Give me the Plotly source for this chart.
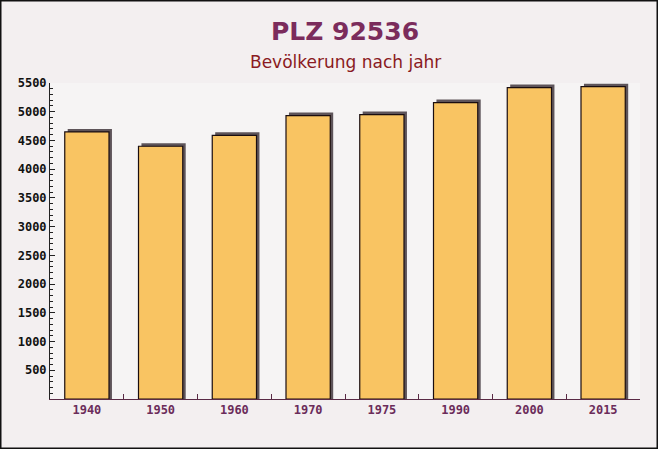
import plotly.graph_objects as go

years = ["1940", "1950", "1960", "1970", "1975", "1990", "2000", "2015"]
population = [4648, 4399, 4590, 4933, 4950, 5159, 5420, 5437]
y_ticks = [500, 1000, 1500, 2000, 2500, 3000, 3500, 4000, 4500, 5000, 5500]

W, H = 658, 449
ML, MR, MT, MB = 50, 18, 83, 50
shadow_units = 52  # ~3px vertical shadow offset in data units

fig = go.Figure()
fig.add_trace(go.Bar(
    x=years, y=[v + shadow_units for v in population],
    width=0.6, offset=-0.26,
    marker=dict(color="#5e5459", line=dict(width=0)),
    hoverinfo="skip", showlegend=False,
))
fig.add_trace(go.Bar(
    x=years, y=population,
    width=0.6, offset=-0.3,
    marker=dict(color="#f9c462", line=dict(color="#1a0d10", width=1.2)),
    showlegend=False,
))

ph = H - MT - MB
pw = W - ML - MR

fig.update_layout(
    width=W, height=H,
    margin=dict(l=ML, r=MR, t=MT, b=MB),
    barmode="overlay",
    paper_bgcolor="#f3eff0",
    plot_bgcolor="rgba(248,246,246,0.6)",
    font=dict(family="DejaVu Sans Mono"),
    annotations=[
        dict(text="<b>PLZ 92536</b>", x=0.5, xref="paper", y=(H - MB - 31) / ph, yref="paper",
             showarrow=False, yanchor="middle",
             font=dict(family="DejaVu Sans", size=25, color="#7b2c5c")),
        dict(text="Bevölkerung nach jahr", x=0.5, xref="paper", y=(H - MB - 62) / ph, yref="paper",
             showarrow=False, yanchor="middle",
             font=dict(family="DejaVu Sans", size=17, color="#8a1a22")),
    ],
)

fig.update_xaxes(
    type="category",
    showgrid=False, zeroline=False,
    showline=True, linecolor="#5a2a45", linewidth=1,
    ticks="inside", tickson="boundaries", ticklen=5, tickcolor="#5a2a45",
    tickfont=dict(family="DejaVu Sans Mono", size=12, color="#6b2c5a", weight="bold"),
    range=[-0.5, len(years) - 0.5],
)
fig.update_yaxes(
    range=[0, 5500],
    tickvals=y_ticks,
    showgrid=False, zeroline=False,
    showline=True, linecolor="#222", linewidth=1,
    ticks="inside", ticklen=5, tickcolor="#222",
    minor=dict(dtick=100, ticks="inside", ticklen=3, tickcolor="#222"),
    tickfont=dict(family="DejaVu Sans Mono", size=12, color="#111", weight="bold"),
)

# outer border around the whole image
fig.add_shape(type="rect", xref="paper", yref="paper",
              x0=-ML / pw + 0.75 / pw, x1=1 + MR / pw - 0.75 / pw,
              y0=-MB / ph + 0.75 / ph, y1=1 + MT / ph - 0.75 / ph,
              line=dict(color="#111", width=1.5), layer="above")

fig.write_html("out.html",
               config={"displayModeBar": False},
               post_script="document.body.style.margin='0';document.body.style.overflow='hidden';")
